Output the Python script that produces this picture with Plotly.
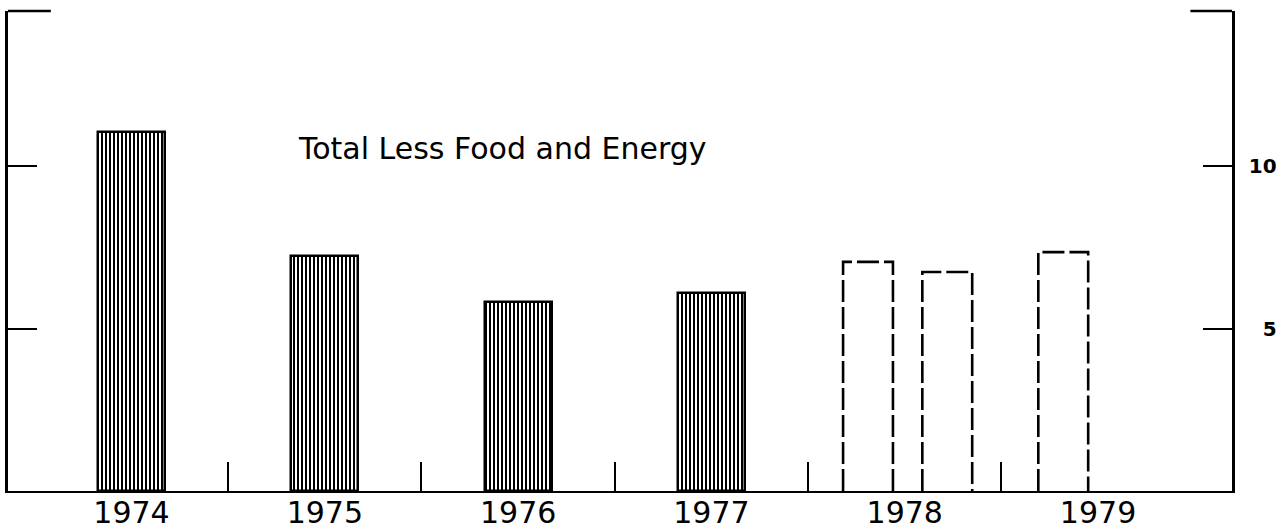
import plotly.graph_objects as go

# ---- data ----
years = [1974, 1975, 1976, 1977]
actual_values = [11.05, 7.23, 5.82, 6.09]

proj_periods = ["1978 H1", "1978 H2", "1979 H1"]
proj_x = [1977.81, 1978.22, 1978.82]
proj_values = [7.05, 6.74, 7.35]

year_labels = ["1974", "1975", "1976", "1977", "1978", "1979"]
year_ticks = [1974, 1975, 1976, 1977, 1978, 1979]
separator_ticks = [1974.5, 1975.5, 1976.5, 1977.5, 1978.5]
y_tickvals = [5, 10]
y_ticktext = ["\u20075", "10"]
title_text = "Total Less Food and Energy"

X_RANGE = [1973.361, 1979.693]
Y_RANGE = [0, 14.77]
BAR_W = 0.346
PROJ_W = 0.258

fig = go.Figure()

fig.add_trace(go.Bar(
    x=years, y=actual_values, width=BAR_W,
    marker=dict(
        color="white",
        pattern=dict(shape="|", size=4, solidity=0.5, fgcolor="black",
                     bgcolor="white", fillmode="replace"),
        line=dict(color="black", width=2.5),
    ),
    showlegend=False, hoverinfo="x+y",
))

# dashed projection bars drawn as open outlines
for name, xc, v in zip(proj_periods, proj_x, proj_values):
    x0, x1 = xc - PROJ_W / 2, xc + PROJ_W / 2
    fig.add_trace(go.Scatter(
        x=[x0, x0, x1, x1], y=[0, v, v, 0], mode="lines",
        line=dict(color="black", width=2.6, dash="22px,5px"),
        name=name, showlegend=False, hoverinfo="name",
    ))

# dummy trace on overlay axes so they render
fig.add_trace(go.Scatter(x=[X_RANGE[0]], y=[0], xaxis="x2", yaxis="y2",
                         mode="markers", marker=dict(opacity=0),
                         showlegend=False, hoverinfo="skip"))

fig.update_layout(
    width=1286, height=531,
    margin=dict(l=8, r=54, t=11, b=40, autoexpand=False),
    paper_bgcolor="white", plot_bgcolor="white",
    bargap=0,
    xaxis=dict(
        range=X_RANGE, tickvals=year_ticks, ticktext=year_labels,
        ticks="", showgrid=False, zeroline=False, automargin=False,
        showline=True, linecolor="black", linewidth=2,
        ticklabelstandoff=-6,
        tickfont=dict(family="DejaVu Sans", size=30, color="black"),
    ),
    xaxis2=dict(
        range=X_RANGE, overlaying="x", anchor="y", side="bottom",
        tickvals=separator_ticks, ticks="inside", ticklen=29,
        tickwidth=1.5, tickcolor="black", showticklabels=False,
        showgrid=False, zeroline=False, showline=False, automargin=False,
    ),
    yaxis=dict(
        range=Y_RANGE, tickvals=y_tickvals, ticks="inside", ticklen=29,
        tickwidth=1.5, tickcolor="black", showticklabels=False,
        showgrid=False, zeroline=False, automargin=False,
        showline=True, linecolor="black", linewidth=2.5,
    ),
    yaxis2=dict(
        range=Y_RANGE, overlaying="y", side="right", anchor="x",
        tickvals=y_tickvals, ticktext=y_ticktext,
        ticks="inside", ticklen=29, tickwidth=1.5, tickcolor="black",
        showgrid=False, zeroline=False, automargin=False,
        showline=True, linecolor="black", linewidth=2.5,
        ticklabelstandoff=10,
        tickfont=dict(family="DejaVu Sans", size=20, color="black", weight="bold"),
    ),
    shapes=[
        dict(type="line", xref="paper", yref="paper", x0=0, x1=0.035, y0=1, y1=1,
             line=dict(color="black", width=2.5)),
        dict(type="line", xref="paper", yref="paper", x0=0.966, x1=1, y0=1, y1=1,
             line=dict(color="black", width=2.5)),
    ],
    annotations=[
        dict(text=title_text, x=1975.92, y=10.55, xref="x", yref="y",
             xanchor="center", yanchor="middle", showarrow=False,
             font=dict(family="DejaVu Sans", size=30, color="black")),
    ],
)

fig.write_html("out.html", config={"displayModeBar": False},
               post_script="document.body.style.margin='0';document.body.style.overflow='hidden';")
